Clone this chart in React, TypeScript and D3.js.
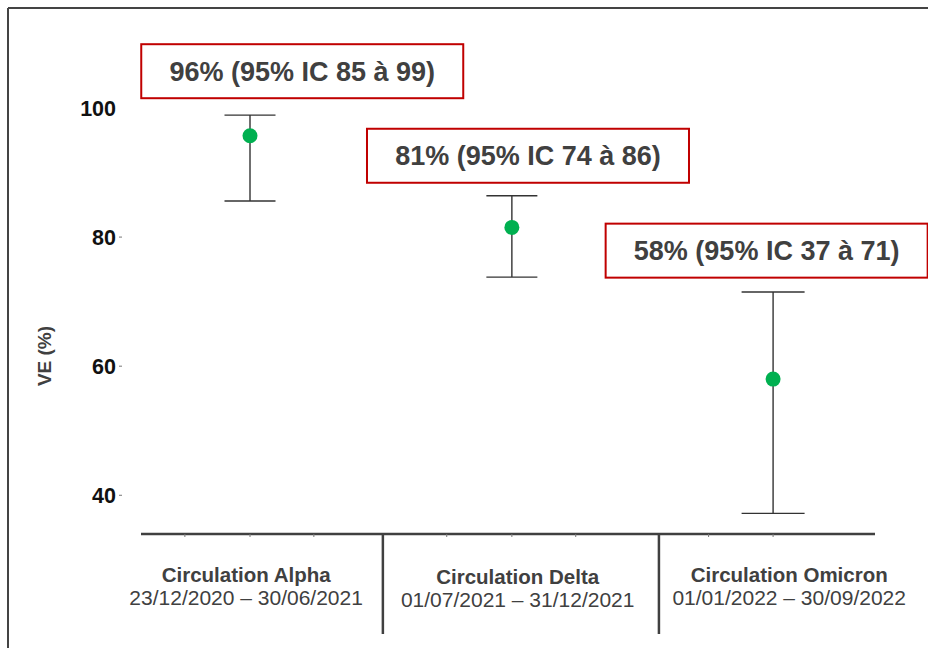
import React from "react";
import * as d3 from "d3";

// ---------- data ----------
const categories = ["Circulation Alpha", "Circulation Delta", "Circulation Omicron"];
const periods = [
  "23/12/2020 – 30/06/2021",
  "01/07/2021 – 31/12/2021",
  "01/01/2022 – 30/09/2022",
];
const ve = [95.7, 81.5, 58];
const ciLow = [85.6, 73.8, 37.2];
const ciHigh = [98.9, 86.4, 71.5];
const annotations = [
  "96% (95% IC 85 à 99)",
  "81% (95% IC 74 à 86)",
  "58% (95% IC 37 à 71)",
];
const yTicks = [40, 60, 80, 100];

// ---------- layout (slot units on x, value units on y) ----------
const pointSlot = [1.69, 5.75, 9.8];
const minorTickSlots = [0.68, 1.69, 2.68, 4.74, 5.75, 6.74, 8.8, 9.8];
const separatorSlots = [3.75, 8.03];
const labelSlot = [1.63, 5.84, 10.05];
const labelDy = [0, 2, 0];
const boxSlot = [2.5, 6.0, 9.7];
const boxValue = [105.7, 92.6, 77.9];
const capHalf = [25.5, 25.5, 31.5];

const W = 928;
const H = 648;
const FONT = "'Liberation Sans', Arial, sans-serif";
const TEXT = "#404040";

export default function App() {
  const x = d3.scaleLinear().domain([0, 11.38]).range([141, 875]);
  const y = d3.scaleLinear().domain([34, 100]).range([534, 108]);
  const axisY = y(34);
  const boxW = 322;
  const boxH = 54;

  return (
    <svg
      width={W}
      height={H}
      style={{ position: "absolute", left: 0, top: 0, background: "#fff" }}
      fontFamily={FONT}
    >
      {/* frame */}
      <line x1={8} x2={W} y1={8} y2={8} stroke="#444" strokeWidth={2} />
      <line x1={8} x2={8} y1={8} y2={H} stroke="#444" strokeWidth={2} />

      {/* y axis label */}
      <text
        transform={`translate(51,${356}) rotate(-90)`}
        textAnchor="middle"
        fontWeight="bold"
        fontSize={19}
        fill={TEXT}
      >
        VE (%)
      </text>

      {/* y ticks */}
      {yTicks.map((t) => (
        <g key={t}>
          <text
            x={116}
            y={y(t)}
            dy="0.36em"
            textAnchor="end"
            fontWeight="bold"
            fontSize={21.5}
            fill="#111"
          >
            {t}
          </text>
          {t !== 100 && (
            <line x1={119} x2={122} y1={y(t)} y2={y(t)} stroke="#777" strokeWidth={1} />
          )}
        </g>
      ))}

      {/* x axis */}
      <line x1={x(0)} x2={x(11.38)} y1={axisY} y2={axisY} stroke={TEXT} strokeWidth={2.5} />
      {minorTickSlots.map((s, i) => (
        <line key={i} x1={x(s)} x2={x(s)} y1={axisY} y2={axisY + 3} stroke="#777" strokeWidth={1} />
      ))}
      {separatorSlots.map((s, i) => (
        <line key={i} x1={x(s)} x2={x(s)} y1={axisY} y2={634} stroke={TEXT} strokeWidth={2.5} />
      ))}

      {/* category labels */}
      {categories.map((c, i) => (
        <g key={c}>
          <text
            x={x(labelSlot[i])}
            y={582 + labelDy[i]}
            textAnchor="middle"
            fontWeight="bold"
            fontSize={20.5}
            fill={TEXT}
          >
            {c}
          </text>
          <text
            x={x(labelSlot[i])}
            y={605 + labelDy[i]}
            textAnchor="middle"
            fontSize={21}
            fill={TEXT}
          >
            {periods[i]}
          </text>
        </g>
      ))}

      {/* error bars & points */}
      {ve.map((v, i) => {
        const cx = x(pointSlot[i]);
        return (
          <g key={i}>
            <line x1={cx} x2={cx} y1={y(ciHigh[i])} y2={y(ciLow[i])} stroke="#333" strokeWidth={1.4} />
            <line x1={cx - capHalf[i]} x2={cx + capHalf[i]} y1={y(ciHigh[i])} y2={y(ciHigh[i])} stroke="#333" strokeWidth={1.4} />
            <line x1={cx - capHalf[i]} x2={cx + capHalf[i]} y1={y(ciLow[i])} y2={y(ciLow[i])} stroke="#333" strokeWidth={1.4} />
            <circle cx={cx} cy={y(v)} r={7.5} fill="#00b050" />
          </g>
        );
      })}

      {/* annotation boxes */}
      {annotations.map((a, i) => {
        const bx = x(boxSlot[i]);
        const by = y(boxValue[i]);
        return (
          <g key={a}>
            <rect
              x={bx - boxW / 2}
              y={by - boxH / 2}
              width={boxW}
              height={boxH}
              fill="#fff"
              stroke="#c00000"
              strokeWidth={2}
            />
            <text
              x={bx}
              y={by}
              dy="0.36em"
              textAnchor="middle"
              fontWeight="bold"
              fontSize={27}
              fill={TEXT}
            >
              {a}
            </text>
          </g>
        );
      })}
    </svg>
  );
}
